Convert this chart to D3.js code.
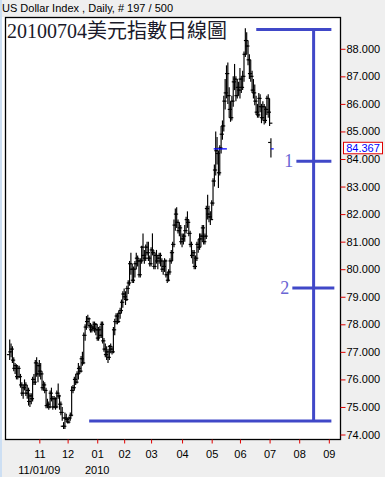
<!DOCTYPE html>
<html>
<head>
<meta charset="utf-8">
<script src="https://cdn.jsdelivr.net/npm/d3@7/dist/d3.min.js"></script>
<style>
body { margin:0; background:#efefef; }
svg { display:block; font-family:"Liberation Sans", Arial, sans-serif; }
</style>
</head>
<body>
<div id="chart"></div>
<script>
// daily bars, [open, high, low, close]
var oct09 = [[76.9,77.45,76.7,77.0],[77.0,77.3,76.8,77.1],[77.1,77.2,76.6,76.7],[76.7,76.8,76.3,76.4],[76.4,76.6,76.2,76.5],
  [76.5,76.55,76.0,76.1],[76.1,76.5,76.0,76.4],[76.4,76.5,76.05,76.1],[76.1,76.2,75.7,75.8],[75.8,75.9,75.4,75.5],
  [75.5,75.8,75.3,75.7],[75.7,76.0,75.6,75.8],[75.8,75.9,75.4,75.5],[75.5,75.8,75.3,75.6],[75.6,75.7,75.05,75.2],
  [75.2,75.5,75.0,75.4],[75.4,75.5,75.1,75.3],[75.3,76.1,75.2,76.0],[76.0,76.2,75.8,75.9],[75.9,76.7,75.8,76.6],
  [76.6,76.8,76.1,76.2],[76.2,76.6,75.9,76.5]];
var nov09 = [[76.5,76.7,76.1,76.3],[76.3,76.6,76.0,76.2],[76.2,76.3,75.6,75.7],[75.7,75.95,75.6,75.8],[75.8,75.9,75.5,75.6],
  [75.6,75.7,74.95,75.05],[75.05,75.3,74.95,75.1],[75.1,75.2,74.9,75.0],[75.0,75.6,74.95,75.5],[75.5,75.7,75.2,75.3],
  [75.3,75.4,74.9,75.0],[75.0,75.4,74.95,75.3],[75.3,75.35,74.9,75.0],[75.0,75.6,74.95,75.5],[75.5,75.85,75.3,75.4],
  [75.4,75.45,74.9,75.1],[75.1,75.2,74.7,74.8],[74.8,75.0,74.5,74.6],[74.3,74.45,74.2,74.3],[74.3,74.8,74.2,74.6],
  [74.6,74.75,74.45,74.55]];
var dec09 = [[74.55,74.6,74.4,74.45],[74.45,74.65,74.4,74.6],[74.6,74.8,74.5,74.7],[74.7,75.75,74.65,75.6],[75.6,75.8,75.5,75.7],
  [75.7,76.1,75.6,76.0],[76.0,76.2,75.8,75.9],[75.9,76.3,75.85,76.2],[76.2,76.6,76.0,76.4],[76.4,76.5,76.2,76.3],
  [76.3,76.85,76.25,76.75],[76.75,77.0,76.5,76.6],[76.6,77.7,76.55,77.6],[77.6,78.0,77.4,77.9],[77.9,78.3,77.8,78.1],
  [78.1,78.35,77.95,78.2],[78.2,78.25,77.85,77.95],[77.95,78.05,77.7,77.8],[77.8,78.0,77.7,77.9],[77.9,78.1,77.75,77.85],
  [77.85,78.1,77.7,78.0],[78.0,78.05,77.6,77.8]];
var jan10 = [[77.8,78.0,77.4,77.5],[77.5,77.9,77.4,77.8],[77.8,77.95,77.5,77.6],[77.6,78.1,77.5,78.0],[78.0,78.1,77.3,77.4],
  [77.4,77.5,77.0,77.1],[77.1,77.3,76.8,76.9],[76.9,77.2,76.7,77.0],[77.0,77.1,76.6,76.8],[76.8,77.25,76.7,77.2],
  [77.2,77.3,76.95,77.1],[77.1,77.2,76.9,77.0],[77.0,77.9,76.95,77.8],[77.8,78.2,77.6,78.1],[78.1,78.4,78.0,78.3],
  [78.3,78.4,78.0,78.1],[78.1,78.5,78.05,78.4],[78.4,78.6,78.2,78.5],[78.5,78.9,78.4,78.8],[78.8,79.2,78.6,79.1]];
var feb10 = [[79.1,79.3,78.9,79.0],[79.0,79.2,78.7,78.9],[78.9,79.4,78.85,79.3],[79.3,79.6,79.1,79.5],[79.5,80.3,79.4,80.2],
  [80.2,80.6,79.8,80.0],[80.0,80.2,79.5,79.6],[79.6,80.1,79.5,80.0],[80.0,80.3,79.7,80.2],[80.2,80.6,80.0,80.4],
  [80.4,80.5,80.1,80.3],[80.3,80.4,79.7,79.8],[79.8,80.4,79.7,80.3],[80.3,80.85,80.2,80.8],[80.8,81.3,80.3,80.5],
  [80.5,80.7,80.2,80.4],[80.4,80.9,80.3,80.8],[80.8,81.0,80.5,80.6],[80.6,81.0,80.3,80.4],[80.4,80.5,80.1,80.2]];
var mar10 = [[80.2,80.8,80.1,80.7],[80.7,81.3,80.5,80.6],[80.6,80.7,80.0,80.1],[80.1,80.6,80.0,80.5],[80.5,80.7,80.2,80.3],
  [80.3,80.5,80.0,80.4],[80.4,80.6,80.2,80.5],[80.5,80.6,80.1,80.3],[80.3,80.4,79.9,80.0],[80.0,80.3,79.8,80.1],
  [80.1,80.4,79.9,80.3],[80.3,80.35,79.7,79.8],[79.8,79.9,79.5,79.6],[79.6,80.0,79.55,79.9],[79.9,80.4,79.8,80.3],
  [80.3,80.7,80.2,80.6],[80.6,81.0,80.3,80.9],[80.9,81.8,80.8,81.6],[81.6,82.2,81.4,82.0],[82.0,82.25,81.5,81.7],
  [81.7,81.8,81.3,81.4],[81.4,81.7,81.2,81.5],[81.5,81.6,80.9,81.0]];
var apr10 = [[81.0,81.3,80.8,81.1],[81.1,81.3,80.9,81.2],[81.2,81.6,81.0,81.4],[81.4,81.9,81.3,81.8],[81.8,82.1,81.5,81.7],
  [81.7,81.8,81.2,81.3],[81.3,81.4,80.8,80.9],[80.9,81.0,80.4,80.5],[80.5,80.7,80.2,80.6],[80.6,80.7,80.0,80.1],
  [80.1,80.5,80.0,80.4],[80.4,81.0,80.3,80.9],[80.9,81.1,80.6,80.8],[80.8,81.3,80.7,81.1],[81.1,81.3,80.8,81.2],
  [81.2,81.6,81.0,81.5],[81.5,81.6,80.9,81.0],[81.0,81.3,80.9,81.2],[81.2,82.3,81.1,82.2],[82.2,82.7,81.8,82.0],
  [82.0,82.3,81.7,81.9],[81.9,82.1,81.6,81.8]];
var may10 = [[81.9,82.5,81.8,82.4],[82.4,83.3,82.3,83.2],[83.2,83.8,83.0,83.6],[83.6,85.0,83.4,84.3],[84.3,84.8,83.8,84.2],
  [84.2,84.3,82.95,83.5],[83.5,84.5,83.4,84.4],[84.4,85.2,84.2,84.9],[84.9,85.4,84.7,85.2],[85.2,86.3,85.0,86.1],
  [86.1,86.9,85.8,86.4],[86.4,87.4,86.2,87.1],[87.1,87.5,86.0,86.3],[86.3,86.6,85.5,85.8],[85.8,86.1,85.35,85.5],
  [85.5,86.3,85.4,86.1],[86.1,87.0,85.9,86.8],[86.8,87.45,86.5,86.9],[86.9,87.0,86.1,86.3],[86.3,86.9,86.2,86.6],
  [86.6,86.8,86.3,86.5]];
var jun10 = [[86.5,87.3,86.2,86.9],[86.9,87.0,86.4,86.6],[86.6,87.2,86.5,87.0],[87.0,87.9,86.8,87.8],[87.8,88.75,87.7,88.3],
  [88.3,88.6,87.8,88.1],[88.1,88.3,87.4,87.6],[87.6,87.8,86.9,87.1],[87.1,87.6,86.8,87.0],[87.0,87.2,86.4,86.5],
  [86.5,86.9,86.2,86.4],[86.4,86.7,85.95,86.1],[86.1,86.3,85.6,85.7],[85.7,86.0,85.5,85.6],[85.6,86.4,85.5,86.2],
  [86.2,86.35,85.7,85.9],[85.9,86.0,85.3,85.5],[85.5,86.1,85.4,85.9],[85.9,86.0,85.25,85.4],[85.4,85.9,85.3,85.8],
  [85.8,86.3,85.6,86.2],[86.2,86.35,85.5,85.7]];
var jul10 = [[85.7,86.2,85.2,85.3],[84.6,84.75,84.05,84.367]];

var holidays = ["2009-12-25", "2010-01-01"];
var yTicks = [74, 75, 76, 77, 78, 79, 80, 81, 82, 83, 84, 85, 86, 87, 88];
var lastClose = 84.367;

// drawn retracement: levels and bar-index extents
var retraceValues = [88.70, 83.92, 79.32, 74.49];
var retraceFrom = [183.1, 212.9, 209.9, 59.0];
var retraceTo = [238.9, 238.9, 241.1, 238.9];
var retraceLabels = ["", "1", "2", ""];
var retraceStem = 225.7;
var cursorSpan = [151.5, 161.3];

var width = 385, height = 477;
var plot = {left: 5, right: 340, top: 17, bottom: 439};

var fmtKey = d3.timeFormat("%Y-%m-%d");
var holidaySet = new Set(holidays);
var days = d3.timeDay.range(new Date(2009, 9, 1), new Date(2010, 9, 1)).filter(function(d) {
	var w = d.getDay();
	return w > 0 && w < 6 && !holidaySet.has(fmtKey(d));
});

var rows = [].concat(oct09, nov09, dec09, jan10, feb10, mar10, apr10, may10, jun10, jul10);
var bars = rows.map(function(r, i) {
	return {i: i, date: days[i], o: r[0], h: r[1], l: r[2], c: r[3]};
});

var monthIdx = [];
for (var i = 1; i < days.length; i++) {
	if (days[i].getMonth() != days[i-1].getMonth()) monthIdx.push(i);
}

var x = d3.scaleLinear()
	.domain([-3.5, 245.3])
	.range([plot.left, plot.right]);

var y = d3.scaleLinear()
	.domain([73.837, 89.154])
	.range([plot.bottom, plot.top]);

var svg = d3.select("#chart").append("svg")
	.attr("width", width)
	.attr("height", height);

svg.append("rect").attr("width", width).attr("height", height).attr("fill", "#efefef");
svg.append("rect").attr("x", 0).attr("y", 0).attr("width", 2).attr("height", height).attr("fill", "#cddff3");
svg.append("rect")
	.attr("x", 2).attr("y", plot.top)
	.attr("width", plot.right - 2).attr("height", plot.bottom - plot.top)
	.attr("fill", "#ffffff");

svg.append("text")
	.attr("x", 2).attr("y", 12)
	.style("font-size", "11px")
	.attr("fill", "#000")
	.text("US Dollar Index , Daily, # 197 / 500");

svg.append("defs").append("clipPath").attr("id", "clip")
	.append("rect")
	.attr("x", plot.left).attr("y", plot.top)
	.attr("width", plot.right - plot.left).attr("height", plot.bottom - plot.top);

var g = svg.append("g").attr("clip-path", "url(#clip)");

// retracement drawing
var blue = "#4048c8";
retraceValues.forEach(function(v, k) {
	g.append("line")
		.attr("x1", x(retraceFrom[k])).attr("x2", x(retraceTo[k]))
		.attr("y1", y(v)).attr("y2", y(v))
		.attr("stroke", blue).attr("stroke-width", 3);
	if (retraceLabels[k]) {
		g.append("text")
			.attr("x", x(retraceFrom[k]) - 3)
			.attr("y", y(v) + 6)
			.attr("text-anchor", "end")
			.style("font-family", "'Liberation Serif', 'DejaVu Serif', serif")
			.style("font-size", "18px")
			.attr("fill", "#6a66d4")
			.text(retraceLabels[k]);
	}
});
g.append("line")
	.attr("x1", x(retraceStem)).attr("x2", x(retraceStem))
	.attr("y1", y(retraceValues[0])).attr("y2", y(retraceValues[3]))
	.attr("stroke", blue).attr("stroke-width", 3);

// OHLC bars
var bar = g.selectAll(".bar")
	.data(bars)
	.enter()
	.append("g")
	.attr("class", "bar")
	.attr("stroke", "#000")
	.attr("stroke-width", 1.15);

bar.append("line")
	.attr("x1", function(d) { return x(d.i); })
	.attr("x2", function(d) { return x(d.i); })
	.attr("y1", function(d) { return y(d.h); })
	.attr("y2", function(d) { return y(d.l); });
bar.append("line")
	.attr("x1", function(d) { return x(d.i) - 2.8; })
	.attr("x2", function(d) { return x(d.i); })
	.attr("y1", function(d) { return y(d.o); })
	.attr("y2", function(d) { return y(d.o); });
bar.append("line")
	.attr("x1", function(d) { return x(d.i); })
	.attr("x2", function(d) { return x(d.i) + 2.8; })
	.attr("y1", function(d) { return y(d.c); })
	.attr("y2", function(d) { return y(d.c); })
	.attr("stroke", function(d, k) { return k == bars.length - 1 ? "#0000ff" : null; });

// cursor mark at last price
g.append("line")
	.attr("x1", x(cursorSpan[0])).attr("x2", x(cursorSpan[1]))
	.attr("y1", y(lastClose)).attr("y2", y(lastClose))
	.attr("stroke", "#0000ff").attr("stroke-width", 1.3);

// title
svg.append("text")
	.attr("x", 7).attr("y", 37.5)
	.style("font-family", "'Liberation Serif', 'Noto Sans CJK TC', serif")
	.style("font-size", "20px")
	.attr("fill", "#1a1a2a")
	.text("20100704美元指數日線圖");

// frame
svg.append("rect")
	.attr("x", plot.left + 0.5).attr("y", plot.top + 0.5)
	.attr("width", plot.right - plot.left).attr("height", plot.bottom - plot.top)
	.attr("fill", "none").attr("stroke", "#000").attr("stroke-width", 1.3);

// right axis
var yAxis = svg.append("g")
	.attr("transform", "translate(" + (plot.right + 0.5) + ",0)")
	.call(d3.axisRight(y).tickValues(yTicks).tickFormat(d3.format(".3f")).tickSize(5).tickPadding(1));
yAxis.select(".domain").remove();
yAxis.selectAll(".tick line").attr("stroke", "#e00000");
yAxis.selectAll("text").style("font-size", "11px").style("font-family", "'Liberation Sans', Arial, sans-serif").attr("fill", "#000");

// bottom axis
var fmtMonth = d3.timeFormat("%m");
var xAxis = svg.append("g")
	.attr("transform", "translate(0," + (plot.bottom + 0.5) + ")")
	.call(d3.axisBottom(x).tickValues(monthIdx).tickFormat(function(i) { return fmtMonth(days[i]); }).tickSize(4).tickPadding(7));
xAxis.select(".domain").remove();
xAxis.selectAll(".tick line").attr("stroke", "#e00000");
xAxis.selectAll("text").style("font-size", "11px").style("font-family", "'Liberation Sans', Arial, sans-serif").attr("fill", "#000");

svg.append("text")
	.attr("x", x(monthIdx[0])).attr("y", 474)
	.attr("text-anchor", "middle").style("font-size", "11px")
	.text(d3.timeFormat("%m/%d/%y")(new Date(2009, 10, 1)));
svg.append("text")
	.attr("x", x(monthIdx[2])).attr("y", 474)
	.attr("text-anchor", "middle").style("font-size", "11px")
	.text(d3.timeFormat("%Y")(days[monthIdx[2]]));

// last price box
svg.append("rect")
	.attr("x", 343.5).attr("y", y(lastClose) - 6.6)
	.attr("width", 39).attr("height", 11.5)
	.attr("fill", "#ffffff").attr("stroke", "#e00000").attr("stroke-width", 1);
svg.append("text")
	.attr("x", 363).attr("y", y(lastClose) + 3.2)
	.attr("text-anchor", "middle").style("font-size", "11px")
	.attr("fill", "#0000ff")
	.text(d3.format(".3f")(lastClose));
</script>
</body>
</html>
